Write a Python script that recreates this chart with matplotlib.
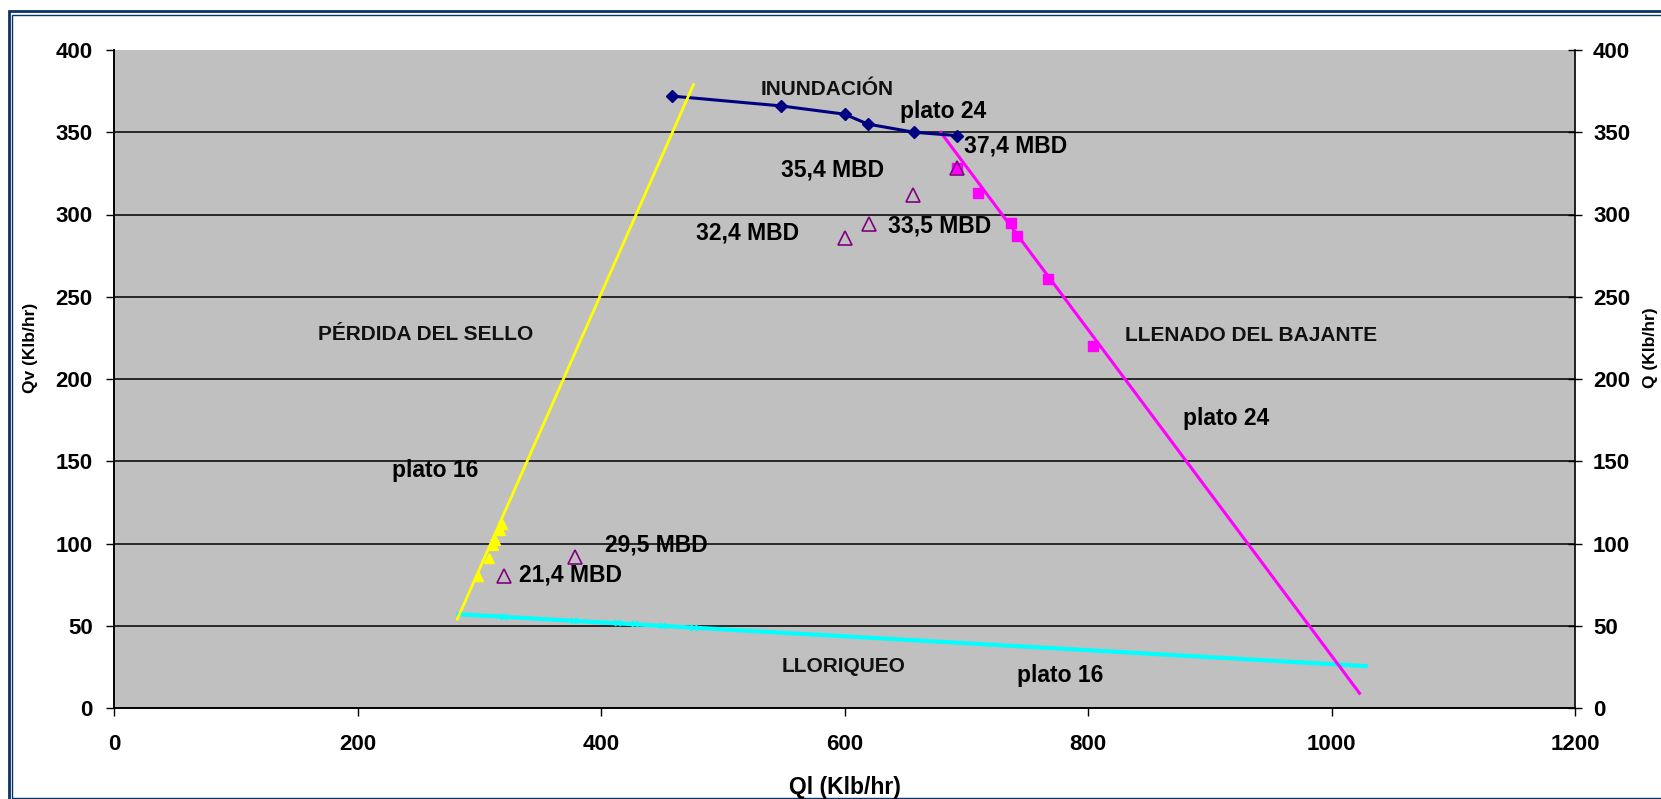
import matplotlib.pyplot as plt
from matplotlib.patches import Rectangle

# flooding limit, plate 24
ql_inund = [458, 548, 600, 619, 657, 692]
qv_inund = [372, 366, 361, 355, 350, 348]

# downcomer filling, plate 24
ql_bajante = [692, 710, 737, 742, 767, 804]
qv_bajante = [328, 313, 295, 287, 261, 220]
ql_bajante_fit = [679, 1023]
qv_bajante_fit = [350, 9]

# seal loss, plate 16
ql_sello = [299, 308, 311, 313, 317, 319]
qv_sello = [80, 91, 99, 102, 108, 112]
ql_sello_fit = [282, 476]
qv_sello_fit = [54, 379]

# weeping, plate 16
ql_lloriqueo = [320, 378, 414, 428, 451, 476]
qv_lloriqueo = [55.4, 52.9, 51.4, 50.8, 49.8, 48.7]
ql_lloriqueo_fit = [283, 1028]
qv_lloriqueo_fit = [57, 25.5]

# operating points
ql_op = [320, 379, 600, 620, 656, 692]
qv_op = [80, 92, 285.5, 294, 312, 328.5]
op_labels = ["21,4 MBD", "29,5 MBD", "32,4 MBD", "33,5 MBD", "35,4 MBD", "37,4 MBD"]

x_ticks = [0, 200, 400, 600, 800, 1000, 1200]
y_ticks = [0, 50, 100, 150, 200, 250, 300, 350, 400]

plt.rcParams['font.family'] = ['Liberation Sans', 'DejaVu Sans']
plt.rcParams['font.weight'] = 'bold'

W, H = 1661, 799
fig = plt.figure(figsize=(W / 100, H / 100), dpi=100, facecolor='white')
ax = fig.add_axes([114 / W, 1 - 708 / H, (1575 - 114) / W, (708 - 50) / H])
ax.set_facecolor('#C0C0C0')
ax.set_xlim(0, 1200)
ax.set_ylim(0, 400)
ax.set_xticks(x_ticks)
ax.set_yticks(y_ticks)

for y in y_ticks[1:-1]:
    ax.axhline(y, color='black', lw=1.1, zorder=1)

ax.plot(ql_lloriqueo_fit, qv_lloriqueo_fit, color='#00FFFF', lw=3, zorder=3)
ax.plot(ql_lloriqueo, qv_lloriqueo, ls='none', marker='x', ms=5, mew=1.3, color='#00FFFF', zorder=3)
ax.plot(ql_bajante_fit, qv_bajante_fit, color='#FF00FF', lw=2.2, zorder=3)
ax.plot(ql_bajante, qv_bajante, ls='none', marker='s', ms=6.5, color='#FF00FF', zorder=3)
ax.plot(ql_inund, qv_inund, color='#000080', lw=2.2, marker='D', ms=6, zorder=4)
ax.plot(ql_sello_fit, qv_sello_fit, color='#FFFF00', lw=2, zorder=5)
ax.plot(ql_sello, qv_sello, ls='none', marker='^', ms=7.5, color='#FFFF00', zorder=5)
ax.plot(ql_op, qv_op, ls='none', marker='^', ms=10, mfc='none', mec='#800080', mew=1.2, zorder=6)

lbl = dict(fontsize=16.5, fontweight='bold', color='black', va='baseline', zorder=7)
ax.text(332.4, 76.8, op_labels[0], ha='left', **lbl)
ax.text(403.5, 95, op_labels[1], ha='left', **lbl)
ax.text(478, 284.5, op_labels[2], ha='left', **lbl)
ax.text(635.4, 289, op_labels[3], ha='left', **lbl)
ax.text(547.9, 323, op_labels[4], ha='left', **lbl)
ax.text(698.4, 337.4, op_labels[5], ha='left', **lbl)
ax.text(680.7, 358.5, "plato 24", ha='center', **lbl)
ax.text(913.8, 172, "plato 24", ha='center', **lbl)
ax.text(264, 140.6, "plato 16", ha='center', **lbl)
ax.text(777.5, 16, "plato 16", ha='center', **lbl)

reg = dict(fontsize=15, fontweight='bold', color='#111111', va='baseline', ha='center', zorder=7)
ax.text(585.7, 372.6, "INUNDACIÓN", **reg)
ax.text(256, 223.5, "PÉRDIDA DEL SELLO", **reg)
ax.text(934.3, 223.1, "LLENADO DEL BAJANTE", **reg)
ax.text(599.6, 22, "LLORIQUEO", **reg)

ax2 = ax.twinx()
ax2.set_ylim(0, 400)
ax2.set_yticks(y_ticks)

for a in (ax, ax2):
    a.spines['top'].set_visible(False)
    for s in ('left', 'right', 'bottom'):
        a.spines[s].set_color('black')
        a.spines[s].set_linewidth(1.2)
ax.spines['right'].set_visible(False)

ax.tick_params(axis='y', direction='out', length=5.8, width=1, pad=9.5, labelsize=16)
ax.tick_params(axis='x', direction='out', length=5.5, width=1, pad=13, labelsize=16)
ax2.tick_params(axis='y', direction='inout', length=10, width=1, pad=8, labelsize=16)
for t in ax.get_xticklabels() + ax.get_yticklabels() + ax2.get_yticklabels():
    t.set_fontweight('bold')

fig.text((114 + 1575) / 2 / W, 1 - 794 / H, "Ql (Klb/hr)", ha='center', va='baseline',
         fontsize=16.5, fontweight='bold')
fig.text(31 / W, 1 - 348 / H, "Qv (Klb/hr)", rotation=90, ha='center', va='center',
         fontsize=12.5, fontweight='bold')
fig.text(1643 / W, 1 - 348 / H, "Q (Klb/hr)", rotation=90, ha='left', va='center',
         fontsize=12.5, fontweight='bold')

# double navy frame, cut off on the right and bottom like the screenshot
frame = '#0A3366'
fig.add_artist(Rectangle((8.5 / W, -20 / H), 1700 / W, (H - 11.2 + 20) / H,
                         transform=fig.transFigure, fill=False, ec=frame, lw=2))
fig.add_artist(Rectangle((12.2 / W, 1.3 / H), 1700 / W, (H - 15 - 1.3) / H,
                         transform=fig.transFigure, fill=False, ec=frame, lw=1))

plt.savefig('out.png', dpi=100, facecolor='white')
